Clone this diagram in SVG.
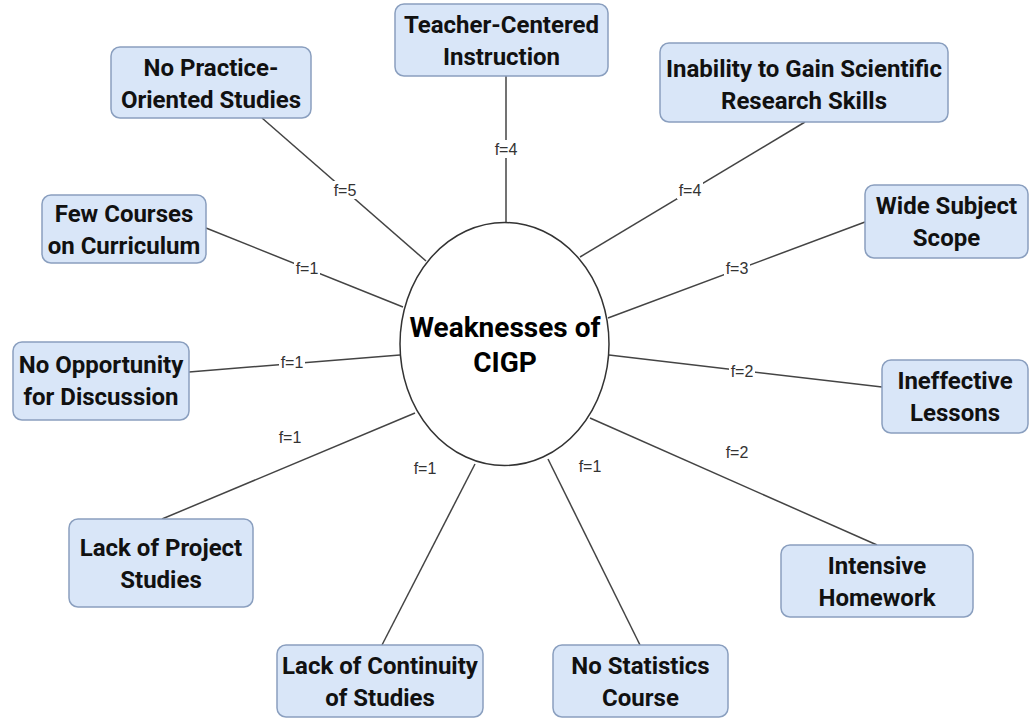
<svg xmlns="http://www.w3.org/2000/svg" width="1030" height="720" viewBox="0 0 1030 720">
<style>
.box{fill:#d9e6f8;stroke:#8a9fbf;stroke-width:1.5}
.bt{font-family:Roboto,"Liberation Sans",Arial,sans-serif;font-weight:bold;font-size:24px;fill:#111;text-anchor:middle}
.ct{font-family:Roboto,"Liberation Sans",Arial,sans-serif;font-weight:bold;font-size:28px;fill:#000;text-anchor:middle}
.ln{stroke:#444;stroke-width:1.5;fill:none}
.lb{font-family:"Liberation Sans",Arial,sans-serif;font-size:16px;fill:#333;text-anchor:middle}
.lbg{fill:#fff}
</style>
<rect width="1030" height="720" fill="#fff"/>
<g id="connectors">
<line class="ln" x1="506" y1="76" x2="506" y2="222"/>
<line class="ln" x1="262" y1="118" x2="426" y2="261"/>
<line class="ln" x1="805" y1="122" x2="580" y2="257"/>
<line class="ln" x1="865" y1="222" x2="608" y2="318"/>
<line class="ln" x1="206" y1="228" x2="403" y2="307"/>
<line class="ln" x1="189" y1="372" x2="400" y2="355"/>
<line class="ln" x1="882" y1="387" x2="609" y2="355"/>
<line class="ln" x1="877" y1="545" x2="590" y2="418"/>
<line class="ln" x1="162" y1="519" x2="415" y2="413"/>
<line class="ln" x1="382" y1="645" x2="475" y2="464"/>
<line class="ln" x1="640" y1="645" x2="548" y2="459"/>
<g>
<rect class="lbg" x="493" y="140" width="26" height="18"/><text class="lb" x="506" y="155">f=4</text>
<rect class="lbg" x="332" y="181" width="26" height="18"/><text class="lb" x="345" y="196">f=5</text>
<rect class="lbg" x="677" y="181" width="26" height="18"/><text class="lb" x="690" y="196">f=4</text>
<rect class="lbg" x="724" y="259" width="26" height="18"/><text class="lb" x="737" y="274">f=3</text>
<rect class="lbg" x="294" y="259" width="26" height="18"/><text class="lb" x="307" y="274">f=1</text>
<rect class="lbg" x="279" y="353" width="26" height="18"/><text class="lb" x="292" y="368">f=1</text>
<rect class="lbg" x="729" y="362" width="26" height="18"/><text class="lb" x="742" y="377">f=2</text>
<text class="lb" x="737" y="458">f=2</text>
<text class="lb" x="290" y="443">f=1</text>
<text class="lb" x="425" y="474">f=1</text>
<text class="lb" x="590" y="472">f=1</text>
</g>
</g>
<g id="center">
<ellipse cx="504.5" cy="344" rx="104.5" ry="121.5" fill="#fff" stroke="#333" stroke-width="1.5"/>
<text class="ct" x="505" y="337">Weaknesses of</text>
<text class="ct" x="505" y="372">CIGP</text>
</g>
<g id="n-teacher"><rect class="box" x="395" y="4" width="213" height="72" rx="9"/><text class="bt" x="501.5" y="33">Teacher-Centered</text><text class="bt" x="501.5" y="65">Instruction</text></g>
<g id="n-practice"><rect class="box" x="111" y="47" width="200" height="71" rx="9"/><text class="bt" x="211" y="76">No Practice-</text><text class="bt" x="211" y="108">Oriented Studies</text></g>
<g id="n-inability"><rect class="box" x="660" y="43" width="288" height="79" rx="9"/><text class="bt" x="804" y="77">Inability to Gain Scientific</text><text class="bt" x="804" y="109">Research Skills</text></g>
<g id="n-wide"><rect class="box" x="865" y="185" width="163" height="73" rx="9"/><text class="bt" x="946.5" y="214">Wide Subject</text><text class="bt" x="946.5" y="246">Scope</text></g>
<g id="n-few"><rect class="box" x="42" y="195" width="164" height="68" rx="9"/><text class="bt" x="124" y="222">Few Courses</text><text class="bt" x="124" y="254">on Curriculum</text></g>
<g id="n-opportunity"><rect class="box" x="13" y="342" width="176" height="78" rx="9"/><text class="bt" x="101" y="373">No Opportunity</text><text class="bt" x="101" y="405">for Discussion</text></g>
<g id="n-ineffective"><rect class="box" x="882" y="360" width="146" height="73" rx="9"/><text class="bt" x="955" y="389">Ineffective</text><text class="bt" x="955" y="421">Lessons</text></g>
<g id="n-intensive"><rect class="box" x="781" y="545" width="192" height="72" rx="9"/><text class="bt" x="877" y="574">Intensive</text><text class="bt" x="877" y="606">Homework</text></g>
<g id="n-project"><rect class="box" x="69" y="519" width="184" height="88" rx="9"/><text class="bt" x="161" y="556">Lack of Project</text><text class="bt" x="161" y="588">Studies</text></g>
<g id="n-continuity"><rect class="box" x="277" y="645" width="206" height="72" rx="9"/><text class="bt" x="380" y="674">Lack of Continuity</text><text class="bt" x="380" y="706">of Studies</text></g>
<g id="n-statistics"><rect class="box" x="553" y="645" width="175" height="72" rx="9"/><text class="bt" x="640.5" y="674">No Statistics</text><text class="bt" x="640.5" y="706">Course</text></g>
</svg>
